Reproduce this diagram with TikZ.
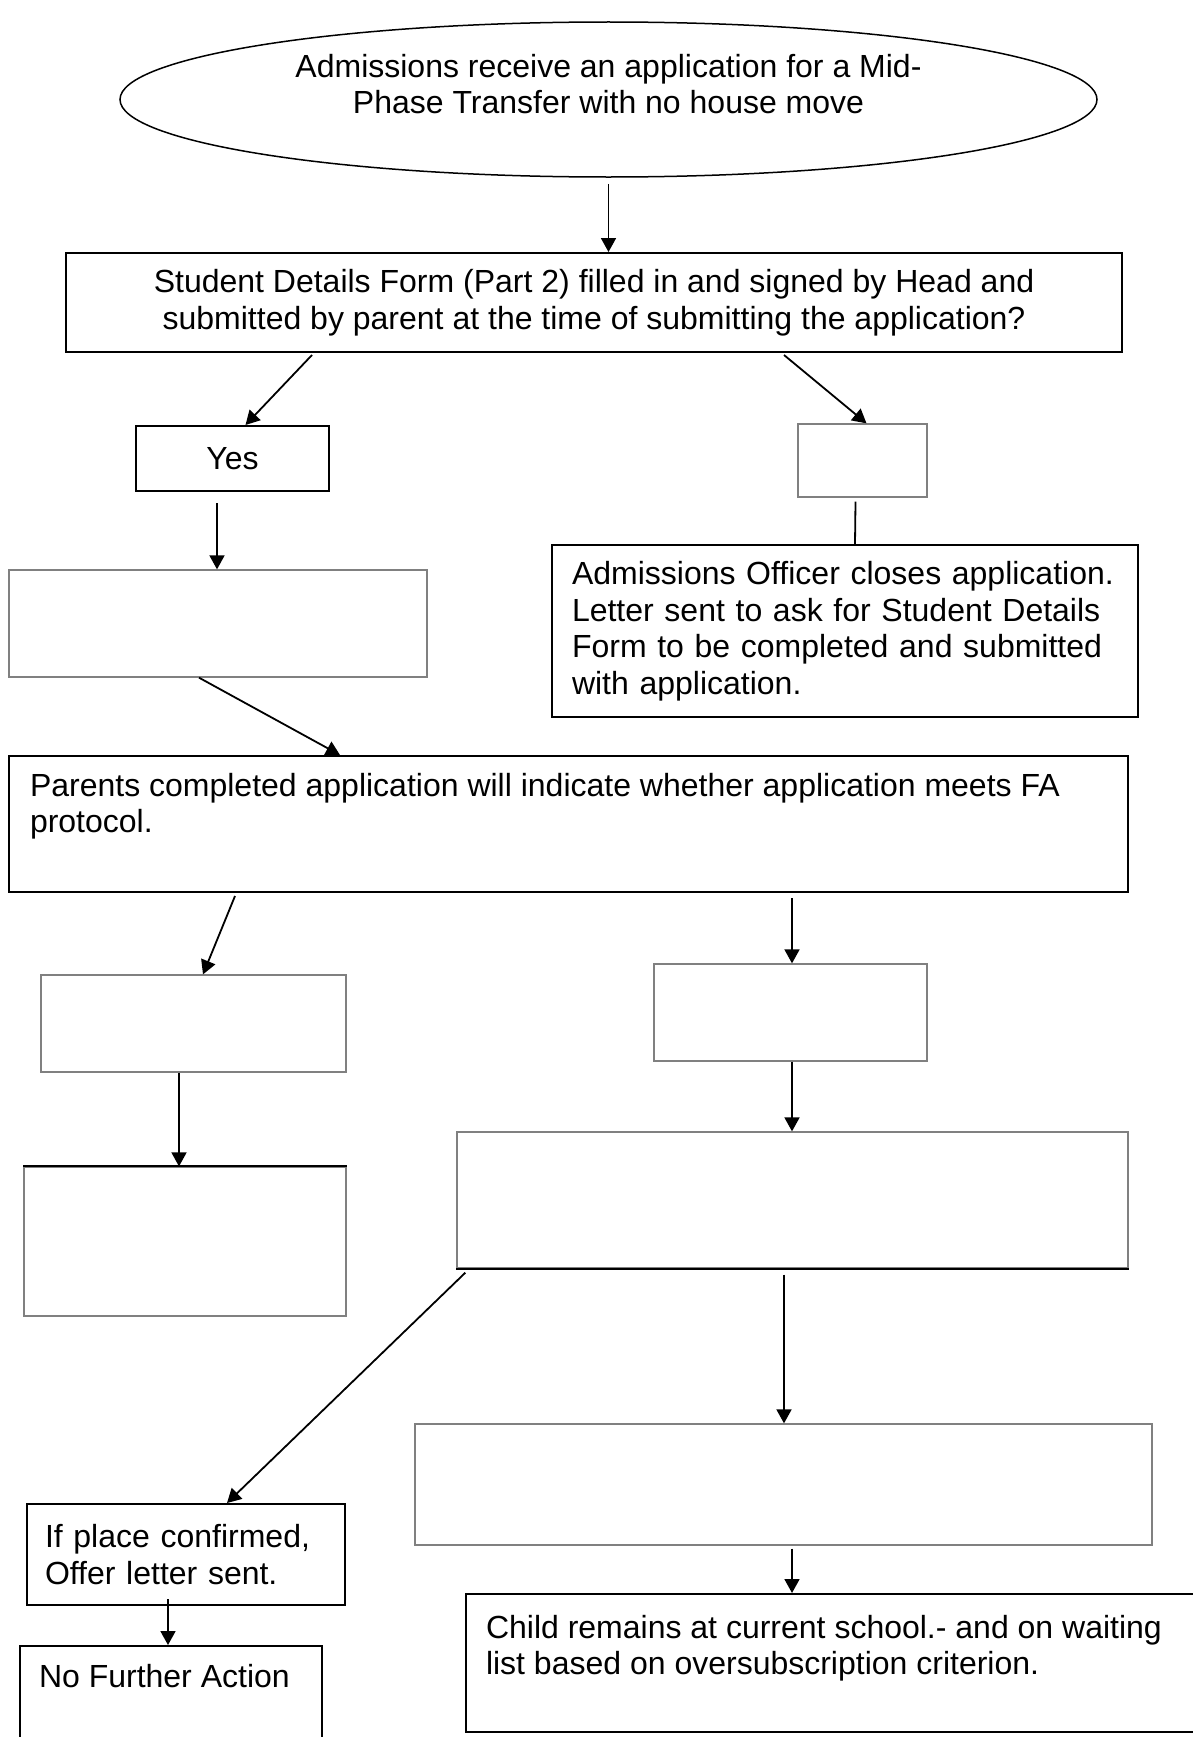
\documentclass[tikz,border=0pt]{standalone}
\usepackage{fontspec}
\setmainfont{Liberation Sans}
\usetikzlibrary{shapes.geometric,arrows.meta}

\newcommand{\bodyfont}{\fontsize{32}{36.5}\selectfont}
% text box that keeps its lines at the top of the frame
\newcommand{\topfill}[4]{\parbox[c][#1][t]{#2}{\vspace*{#3}\raggedright\strut #4}}

\tikzset{
  box/.style={draw, line width=2pt, rectangle, inner sep=0pt, font=\bodyfont},
  blank/.style={draw=gray, line width=1.3pt, rectangle, inner sep=0pt},
  arr/.style={-{Triangle[length=14pt,width=15pt]}, line width=1.8pt},
  link/.style={line width=1.8pt},
}

\begin{document}
\begin{tikzpicture}[x=1pt,y=-1pt]

\useasboundingbox (0,0) rectangle (1192,1737);

\node(start)[ellipse, draw, line width=1.5pt, minimum width=977pt, minimum height=155pt, inner sep=0pt, font=\bodyfont] at (608.5,99.5) {\parbox[c][100pt][t]{660pt}{\vspace*{2pt}\centering\strut Admissions receive an application for a Mid-\\Phase Transfer with no house move}};

\node(form)[box, minimum width=1056pt, minimum height=99pt, align=center] at (594,302.5) {Student Details Form (Part 2) filled in and signed by Head and\\submitted by parent at the time of submitting the application?};

\node(yes)[box, minimum width=193pt, minimum height=65pt] at (232.5,458.5) {Yes};
\node(nobox)[blank, minimum width=129pt, minimum height=73pt] at (862.5,460.5) {};

\node(officer)[box, minimum width=586pt, minimum height=172pt, align=left, text width=546pt] at (845,631) {Admissions Officer closes application.\\Letter sent to ask for Student Details\\Form to be completed and submitted\\with application.};

\node(blank1)[blank, minimum width=418pt, minimum height=107pt] at (218,623.5) {};

\node(parents)[box, minimum width=1119pt, minimum height=136pt] at (568.5,824) {\topfill{136pt}{1077pt}{14.5pt}{Parents completed application will indicate whether application meets FA\\protocol.}};

\node(blank2)[blank, minimum width=305pt, minimum height=97pt] at (193.5,1023.5) {};
\node(blank3)[blank, minimum width=273pt, minimum height=97pt] at (790.5,1012.5) {};
\node(leftbig)[blank, minimum width=322pt, minimum height=149pt] at (185,1241.5) {};
\node(rightbig)[blank, minimum width=671pt, minimum height=136pt] at (792.5,1200) {};
\node(rightlow)[blank, minimum width=737pt, minimum height=121pt] at (783.5,1484.5) {};

% darker edges
\draw[line width=2pt] (leftbig.north west) -- (leftbig.north east);
\draw[line width=2pt] (rightbig.south west) -- (rightbig.south east);

\node(ifplace)[box, minimum width=318pt, minimum height=101pt, align=left, text width=282pt] at (186,1554.5) {If place confirmed,\\Offer letter sent.};
\node(nfa)[box, minimum width=302pt, minimum height=96pt] at (171,1694) {\topfill{96pt}{264pt}{15.5pt}{No Further Action}};
\node(child)[box, minimum width=730pt, minimum height=138pt] at (831,1663) {\topfill{138pt}{690pt}{18.5pt}{Child remains at current school.- and on waiting\\list based on oversubscription criterion.}};

\draw[arr] ([yshift=-6pt]start.south) -- (form.north -| start.south);
\draw[arr] ([xshift=-282pt,yshift=-2pt]form.south) -- ([xshift=13pt]yes.north);
\draw[arr] ([xshift=190pt,yshift=-2pt]form.south) -- ([xshift=4pt]nobox.north);
\draw[link] ([xshift=-7pt,yshift=-4pt]nobox.south) -- ([xshift=10pt]officer.north);
\draw[arr] ([xshift=-15.5pt,yshift=-11pt]yes.south) -- ([xshift=-1pt]blank1.north);
\draw[arr] ([xshift=-19pt]blank1.south) -- ([xshift=-228.5pt]parents.north);
\draw[arr] ([xshift=-333.5pt,yshift=-3pt]parents.south) -- ([xshift=9.5pt]blank2.north);
\draw[arr] ([xshift=223.5pt,yshift=-5pt]parents.south) -- ([xshift=1.5pt]blank3.north);
\draw[arr] ([xshift=-14.5pt]blank2.south) -- ([xshift=-6pt]leftbig.north);
\draw[arr] ([xshift=1.5pt]blank3.south) -- ([xshift=-0.5pt]rightbig.north);
\draw[arr] ([xshift=9pt,yshift=-4pt]rightbig.south west) -- ([xshift=41pt]ifplace.north);
\draw[arr] ([xshift=-8.5pt,yshift=-6pt]rightbig.south) -- ([xshift=0.5pt]rightlow.north);
\draw[arr] ([xshift=-18pt,yshift=7pt]ifplace.south) -- ([xshift=-3pt]nfa.north);
\draw[arr] ([xshift=8.5pt,yshift=-3pt]rightlow.south) -- ([xshift=-39pt]child.north);

\end{tikzpicture}
\end{document}
